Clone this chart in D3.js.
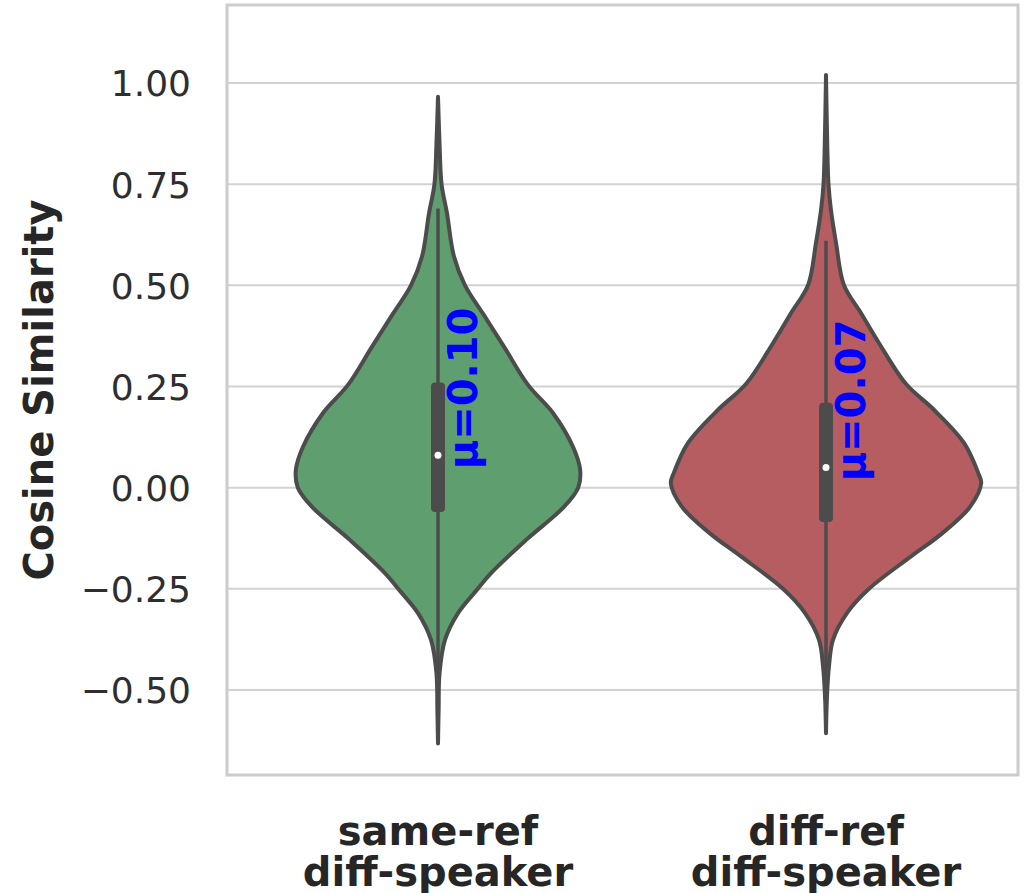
<!DOCTYPE html>
<html>
<head>
<meta charset="utf-8">
<script src="https://cdn.jsdelivr.net/npm/d3@7"></script>
<style>
body { margin: 0; background: #fff; }
text { font-family: "DejaVu Sans", sans-serif; }
</style>
</head>
<body>
<svg id="chart" width="1030" height="893"></svg>
<script>
// categories + tick values
var categories = ["same-ref diff-speaker", "diff-ref diff-speaker"]
var categoryLines = [["same-ref", "diff-speaker"], ["diff-ref", "diff-speaker"]]
var colors = ["#5f9e6e", "#b55d60"]
var yTicks = [-0.5, -0.25, 0, 0.25, 0.5, 0.75, 1.0]

// density profiles (relative density, top -> bottom)
var sameRefValues  = [0.966, 0.85, 0.75, 0.678, 0.571, 0.50, 0.43, 0.348, 0.254, 0.184, 0.10, 0.044, 0.0, -0.047, -0.129, -0.211, -0.255, -0.31, -0.376, -0.458, -0.55, -0.632]
var sameRefDensity = [0.0, 0.01, 0.023, 0.058, 0.103, 0.174, 0.29, 0.426, 0.58, 0.742, 0.871, 0.916, 0.903, 0.813, 0.568, 0.342, 0.245, 0.129, 0.045, 0.01, 0.004, 0.0]
var diffRefValues  = [1.02, 0.85, 0.75, 0.686, 0.604, 0.50, 0.431, 0.357, 0.256, 0.192, 0.11, 0.036, 0.011, -0.047, -0.113, -0.17, -0.25, -0.31, -0.376, -0.442, -0.52, -0.607]
var diffRefDensity = [0.0, 0.008, 0.016, 0.032, 0.065, 0.116, 0.226, 0.342, 0.516, 0.697, 0.89, 0.981, 1.0, 0.929, 0.748, 0.548, 0.277, 0.135, 0.045, 0.019, 0.006, 0.0]

// box stats
var q1 = [-0.06, -0.085]
var medians = [0.08, 0.05]
var q3 = [0.26, 0.21]
var whiskLo = [-0.50, -0.50]
var whiskHi = [0.69, 0.61]
var means = [0.10, 0.07]

var svg = d3.select("#chart")
var frame = {left: 227, right: 1018, top: 5, bottom: 775}

var x = d3.scaleBand()
.domain(categories)
.range([244, 1020])

var y = d3.scaleLinear()
.domain([-0.5, 1.0])
.range([690, 83])

var w = d3.scaleLinear()
.domain([0, 1])
.range([0, x.bandwidth() * 0.4])

// grid
svg.append("g")
.selectAll("line")
.data(yTicks)
.enter()
.append("line")
.attr("x1", frame.left)
.attr("x2", frame.right)
.attr("y1", function(d){ return y(d) })
.attr("y2", function(d){ return y(d) })
.attr("stroke", "#d2d2d2")
.attr("stroke-width", 2)

// y axis labels
var yAxis = d3.axisLeft(y)
.tickValues(yTicks)
.tickFormat(d3.format(".2f"))
.tickSize(0)
.tickPadding(0)

var yg = svg.append("g")
.attr("transform", "translate(191,0)")
.call(yAxis)
yg.select(".domain").remove()
yg.selectAll("text")
.attr("font-size", 36)
.attr("fill", "#2e2e2e")
.attr("dy", "0.36em")
.style("font-family", "DejaVu Sans")

svg.append("text")
.attr("transform", "translate(53," + (frame.top + frame.bottom) / 2 + ") rotate(-90)")
.attr("text-anchor", "middle")
.attr("font-size", 40)
.attr("font-weight", "bold")
.attr("fill", "#262626")
.text("Cosine Similarity")

// x labels
var xl = svg.append("g")
.selectAll("text")
.data(categories)
.enter()
.append("text")
.attr("text-anchor", "middle")
.attr("font-size", 40)
.attr("font-weight", "bold")
.attr("fill", "#262626")
.attr("x", function(d){ return x(d) + x.bandwidth() / 2 })
.attr("y", 845)

xl.each(function(d, i){
  d3.select(this).selectAll("tspan")
  .data(categoryLines[i])
  .enter()
  .append("tspan")
  .attr("x", x(d) + x.bandwidth() / 2)
  .attr("dy", function(t, j){ return j == 0 ? 0 : 41 })
  .text(function(t){ return t })
})

// violins
var profiles = [
  d3.zip(sameRefValues, sameRefDensity),
  d3.zip(diffRefValues, diffRefDensity)
]

var vg = svg.append("g")
.selectAll("g")
.data(categories)
.enter()
.append("g")

vg.each(function(cat, i){
  var cx = x(cat) + x.bandwidth() / 2
  var area = d3.area()
  .curve(d3.curveCatmullRom.alpha(0.5))
  .y(function(p){ return y(p[0]) })
  .x0(function(p){ return cx - w(p[1]) })
  .x1(function(p){ return cx + w(p[1]) })

  var g = d3.select(this)
  g.append("path")
  .attr("d", area(profiles[i]))
  .attr("fill", colors[i])
  .attr("stroke", "#4c4c4c")
  .attr("stroke-width", 4)
  .attr("stroke-linejoin", "round")

  g.append("line")
  .attr("x1", cx).attr("x2", cx)
  .attr("y1", y(whiskHi[i])).attr("y2", y(whiskLo[i]))
  .attr("stroke", "#4c4c4c")
  .attr("stroke-width", 3.5)

  g.append("rect")
  .attr("x", cx - 7)
  .attr("width", 14)
  .attr("y", y(q3[i]))
  .attr("height", y(q1[i]) - y(q3[i]))
  .attr("rx", 4)
  .attr("fill", "#4c4c4c")

  g.append("circle")
  .attr("cx", cx)
  .attr("cy", y(medians[i]))
  .attr("r", 3.5)
  .attr("fill", "#fff")

  g.append("text")
  .attr("transform", "translate(" + (cx + 39) + "," + (y(means[i]) + 22) + ") rotate(-90)")
  .attr("font-size", 40)
  .attr("font-weight", "bold")
  .attr("fill", "#0000ff")
  .text("\u03bc=" + d3.format(".2f")(means[i]))
})

// frame
svg.append("rect")
.attr("x", frame.left)
.attr("y", frame.top)
.attr("width", frame.right - frame.left)
.attr("height", frame.bottom - frame.top)
.attr("fill", "none")
.attr("stroke", "#cccccc")
.attr("stroke-width", 3)
</script>
</body>
</html>
